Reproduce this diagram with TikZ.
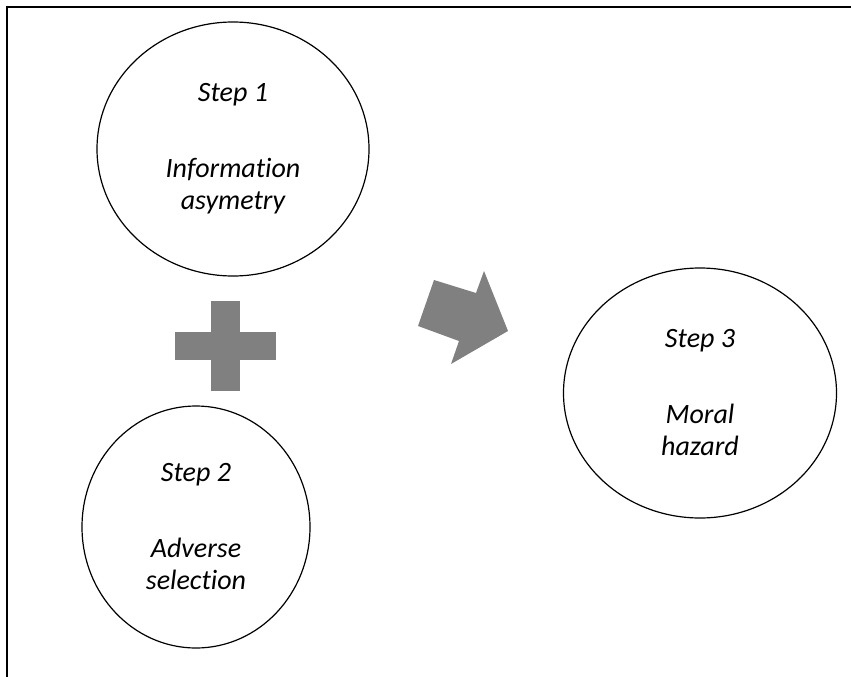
\documentclass[tikz,border=0pt]{standalone}
\usepackage{fontspec}
\setmainfont{Carlito}[Ligatures=NoCommon]
\usetikzlibrary{shapes.geometric}

\tikzset{
  stepnode/.style={draw, ellipse, line width=1.2pt, inner sep=0pt, align=center,
    font=\fontsize{28}{32}\selectfont\itshape},
  signfill/.style={fill=gray}
}

\begin{document}
\begin{tikzpicture}[x=1pt,y=-1pt]
  \useasboundingbox (0,0) rectangle (851,677);

  % Frame
  \draw[line width=1.5pt] (851,7) -- (7,7) -- (7,677);

  % Steps
  \node[stepnode, minimum width=272pt, minimum height=254pt] (step1) at (233,149) {Step 1\\[44pt]Information\\asymetry};
  \node[stepnode, minimum width=228pt, minimum height=242pt] (step2) at (196,527) {Step 2\\[44pt]Adverse\\selection};
  \node[stepnode, minimum width=273pt, minimum height=250pt] (step3) at (700,393) {Step 3\\[44pt]Moral\\hazard};

  % Plus sign
  \fill[signfill] (175,332) rectangle (276,360);
  \fill[signfill] (211,301) rectangle (240,391);

  % Arrow
  \fill[signfill] (418,326) -- (434,280) -- (476,293) -- (484,271) -- (508,331) -- (451,364) -- (459,341) -- cycle;

\end{tikzpicture}
\end{document}
